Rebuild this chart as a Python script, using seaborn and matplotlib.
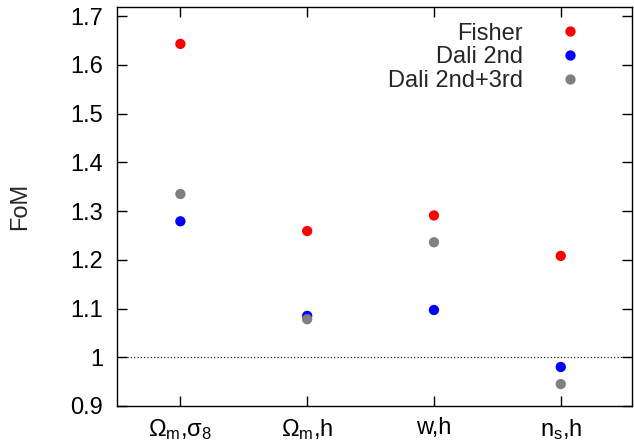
import matplotlib
matplotlib.use("Agg")
import matplotlib.pyplot as plt
import seaborn as sns
import pandas as pd

categories = ["Ω$_{\\mathrm{m}}$,σ$_{\\mathrm{8}}$", "Ω$_{\\mathrm{m}}$,h", "w,h", "n$_{\\mathrm{s}}$,h"]
fisher = [1.643, 1.259, 1.291, 1.208]
dali2 = [1.279, 1.085, 1.097, 0.980]
dali23 = [1.335, 1.078, 1.236, 0.945]
series = ["Fisher", "Dali 2nd", "Dali 2nd+3rd"]
yticks = [0.9, 1.0, 1.1, 1.2, 1.3, 1.4, 1.5, 1.6, 1.7]
yticklabels = ["0.9", "1", "1.1", "1.2", "1.3", "1.4", "1.5", "1.6", "1.7"]

rows = []
for name, vals in zip(series, [fisher, dali2, dali23]):
    for c, v in zip(categories, vals):
        rows.append({"cat": c, "FoM": v, "series": name})
df = pd.DataFrame(rows)

sns.set_style("ticks")
plt.rcParams["font.family"] = ["Liberation Sans", "DejaVu Sans"]
plt.rcParams["mathtext.fontset"] = "custom"
plt.rcParams["mathtext.rm"] = "Liberation Sans"
plt.rcParams["mathtext.it"] = "Liberation Sans:italic"

fig = plt.figure(figsize=(6.34, 4.44), dpi=100)
ax = fig.add_axes([0.1845, 0.0856, 0.812, 0.8984])

palette = {"Fisher": "#ff0000", "Dali 2nd": "#0000ff", "Dali 2nd+3rd": "#808080"}
sns.scatterplot(data=df, x="cat", y="FoM", hue="series", palette=palette,
                s=55, edgecolor="none", ax=ax, zorder=3)

ax.axhline(1.0, ls=(0, (1, 2)), color="black", lw=0.8, zorder=1)
ax.set_xlim(-0.5, 3.56)
ax.set_ylim(0.9, 1.7185)
ax.set_yticks(yticks)
ax.set_yticklabels(yticklabels)
ax.set_xlabel("")
ax.set_ylabel("FoM", fontsize=17, labelpad=28)
ax.tick_params(axis="both", direction="in", length=7, width=1, labelsize=17,
               top=True, right=True, color="black", labelcolor="black")
ax.tick_params(axis="x", pad=8)
ax.tick_params(axis="y", pad=10)
for sp in ax.spines.values():
    sp.set_visible(True)
    sp.set_linewidth(1)
    sp.set_color("black")

leg = ax.legend(loc="upper right", frameon=False, markerfirst=False, fontsize=17,
                handletextpad=1.0, labelspacing=0.07, borderaxespad=0.0,
                bbox_to_anchor=(0.944, 0.985))
for t in leg.get_texts():
    t.set_ha("right")

fig.savefig("out.png", dpi=100)
